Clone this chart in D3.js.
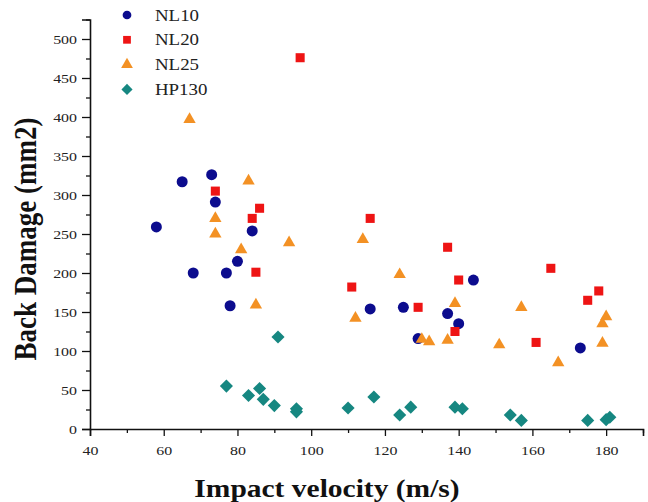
<!DOCTYPE html>
<html>
<head>
<meta charset="utf-8">
<script src="https://cdn.jsdelivr.net/npm/d3@7"></script>
<style>
  body { margin: 0; background: #fff; }
  svg { display: block; font-family: "Liberation Serif", "Times New Roman", serif; }
</style>
</head>
<body>
<div id="chart"></div>
<script>
// series data: [impact velocity (m/s), back damage (mm2)]
const nl10 = [
  [65, 317], [73, 326], [74, 291], [58, 259], [84, 254], [80, 215],
  [68, 200], [77, 200], [78, 158], [116, 154], [125, 156], [144, 191],
  [137, 148], [140, 135], [129, 116], [173, 104]
];
const nl20 = [
  [74, 305], [86, 283], [84, 270], [85, 201], [97, 476], [116, 270],
  [111, 182], [129, 156], [137, 233], [140, 191], [139, 125], [165, 206],
  [175, 165], [178, 177], [161, 111]
];
const nl25 = [
  [67, 397], [83, 318], [74, 270], [74, 250], [81, 230], [94, 239],
  [85, 159], [114, 243], [124, 198], [112, 142], [139, 161], [130, 115],
  [132, 112], [137, 114], [157, 156], [151, 108], [167, 85], [180, 144],
  [179, 135], [179, 110]
];
const hp130 = [
  [91, 118], [77, 55], [83, 43], [86, 52], [87, 38], [90, 30], [96, 26],
  [96, 22], [110, 27], [117, 41], [124, 18], [127, 28], [139, 28],
  [141, 26], [154, 18], [157, 11], [175, 11], [180, 12], [181, 15]
];

const seriesNames = ["NL10", "NL20", "NL25", "HP130"];
const seriesData = [nl10, nl20, nl25, hp130];
const xMajorTicks = [40, 60, 80, 100, 120, 140, 160, 180];
const xMinorTicks = [50, 70, 90, 110, 130, 150, 170, 190];
const yMajorTicks = [0, 50, 100, 150, 200, 250, 300, 350, 400, 450, 500];
const yMinorTicks = [25, 75, 125, 175, 225, 275, 325, 375, 425, 475, 525];

const width = 648;
const height = 502;
const stretch = 1.18; // the reference text is a bit wide

const colors = ["#0c0c8e", "#ee1414", "#f39124", "#168781"];
const symbols = [
  d3.symbol().type(d3.symbolCircle).size(95),
  d3.symbol().type(d3.symbolSquare).size(82),
  d3.symbol().type(d3.symbolTriangle).size(66),
  d3.symbol().type(d3.symbolSquare).size(86)
];
const rotate = [0, 0, 0, 45];

const x = d3.scaleLinear().domain([40, 190]).range([90, 643]);
const y = d3.scaleLinear().domain([0, 525]).range([429, 19.5]);

const svg = d3.select("#chart").append("svg")
  .attr("width", width)
  .attr("height", height);

// x axis
const xAxis = svg.append("g")
  .attr("transform", `translate(0,${y(0)})`)
  .call(d3.axisBottom(x).tickValues(xMajorTicks).tickSize(7).tickPadding(9).tickFormat(d3.format("d")));
svg.append("g")
  .attr("transform", `translate(0,${y(0)})`)
  .call(d3.axisBottom(x).tickValues(xMinorTicks).tickSize(4).tickFormat(""))
  .call(g => g.select(".domain").remove());

// y axis
const yAxis = svg.append("g")
  .attr("transform", `translate(${x(40)},0)`)
  .call(d3.axisLeft(y).tickValues(yMajorTicks).tickSize(8).tickPadding(4).tickFormat(d3.format("d")));
svg.append("g")
  .attr("transform", `translate(${x(40)},0)`)
  .call(d3.axisLeft(y).tickValues(yMinorTicks).tickSize(4).tickFormat(""))
  .call(g => g.select(".domain").remove());

svg.selectAll(".domain").attr("stroke", "#111").attr("stroke-width", 1.6);
svg.selectAll(".tick line").attr("stroke", "#111").attr("stroke-width", 1.3);
svg.selectAll(".tick text")
  .attr("font-family", "'Liberation Serif', 'Times New Roman', serif")
  .attr("font-size", 13.5)
  .attr("fill", "#222");
xAxis.selectAll(".tick text").attr("transform", `scale(${stretch},1)`);
yAxis.selectAll(".tick text")
  .attr("x", -13 / stretch)
  .attr("transform", `scale(${stretch},1)`);

// axis titles
svg.append("text")
  .attr("transform", `translate(327,497) scale(${stretch},1)`)
  .attr("text-anchor", "middle")
  .attr("font-size", 25)
  .attr("font-weight", "bold")
  .attr("fill", "#111")
  .text("Impact velocity (m/s)");

svg.append("text")
  .attr("transform", `translate(36,239) scale(${stretch},1) rotate(-90)`)
  .attr("text-anchor", "middle")
  .attr("font-size", 27)
  .attr("font-weight", "bold")
  .attr("fill", "#111")
  .text("Back Damage (mm2)");

// points
seriesData.forEach((data, i) => {
  svg.append("g")
    .selectAll("path")
    .data(data)
    .join("path")
    .attr("d", symbols[i])
    .attr("transform", d => `translate(${x(d[0])},${y(d[1])}) rotate(${rotate[i]})`)
    .attr("fill", colors[i]);
});

// legend
const legendSymbols = [
  d3.symbol().type(d3.symbolCircle).size(60),
  d3.symbol().type(d3.symbolSquare).size(60),
  d3.symbol().type(d3.symbolTriangle).size(60),
  d3.symbol().type(d3.symbolSquare).size(62)
];
const legend = svg.append("g");
seriesNames.forEach((name, i) => {
  const ly = 15 + i * 24.8;
  legend.append("path")
    .attr("d", legendSymbols[i])
    .attr("transform", `translate(127,${ly}) rotate(${rotate[i]})`)
    .attr("fill", colors[i]);
  legend.append("text")
    .attr("transform", `translate(155,${ly + 5.5}) scale(${stretch},1)`)
    .attr("font-size", 16)
    .attr("fill", "#222")
    .text(name);
});
</script>
</body>
</html>
